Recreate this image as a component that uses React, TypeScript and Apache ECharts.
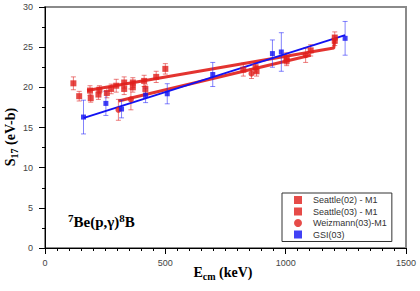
import React, { useEffect, useRef } from "react";
import * as echarts from "echarts";

// [E_cm (keV), S17 (eV-b), error]
const seattle02 = [
  [118, 20.5, 0.8], [142, 18.9, 0.6], [187, 19.6, 0.6], [190, 18.65, 0.5],
  [222, 19.1, 0.6], [257, 19.3, 0.6], [275, 19.8, 0.6], [329, 20.6, 0.7],
  [365, 20.6, 0.6], [412, 20.8, 0.7], [462, 21.3, 0.7], [500, 22.3, 0.65],
];
const seattle03 = [
  [226, 19.7, 0.5], [296, 20.2, 0.8], [329, 19.8, 0.7], [365, 20.0, 0.6],
  [417, 19.8, 0.5], [824, 22.2, 0.8], [875, 22.5, 0.6], [879, 22.0, 0.6],
  [1004, 23.6, 0.7], [1004, 23.3, 0.6], [1104, 24.6, 0.7], [1204, 26.2, 0.7],
  [1204, 25.8, 0.6],
];
const weizmann03 = [
  [305, 17.2, 1.3], [357, 18.5, 1.3], [858, 21.7, 0.6], [1083, 24.0, 0.9],
];
const gsi03 = [
  [160, 16.3, 2.1], [253, 18.0, 1.5], [318, 17.3, 1.1], [418, 19.0, 0.9],
  [508, 19.2, 1.25], [697, 21.6, 1.5], [945, 24.2, 1.7], [982, 24.4, 2.4],
  [1247, 26.1, 2.1],
];
// fit curves
const redFitA = [[175, 19.6], [1200, 24.9], [1204, 26.0]];
const redFitB = [[305, 18.3], [1104, 24.0]];
const blueFit = [[162, 16.2], [1247, 26.5]];

const legendNames = ["Seattle(02) - M1", "Seattle(03) - M1", "Weizmann(03)-M1", "GSI(03)"];
const xTicks = { min: 0, max: 1500, interval: 500 };
const yTicks = { min: 0, max: 30, interval: 5 };

const RED = "#e01e1a";
const BLUE = "#1212f2";
const RED_ERR = "rgba(224,40,40,0.6)";
const BLUE_ERR = "rgba(30,30,250,0.55)";
const SERIF = "'Liberation Serif', 'Times New Roman', serif";
const SANS = "'Liberation Sans', Arial, sans-serif";

function errSeries(name: string, data: number[][], color: string) {
  return {
    type: "custom",
    name,
    data,
    encode: { x: 0, y: 1 },
    z: 2,
    renderItem: (params: any, api: any) => {
      const x = api.value(0);
      const y = api.value(1);
      const e = api.value(2);
      const top = api.coord([x, y + e]);
      const bot = api.coord([x, y - e]);
      const w = 2.5;
      const style = { stroke: color, lineWidth: 1 };
      return {
        type: "group",
        children: [
          { type: "line", shape: { x1: top[0], y1: top[1], x2: bot[0], y2: bot[1] }, style },
          { type: "line", shape: { x1: top[0] - w, y1: top[1], x2: top[0] + w, y2: top[1] }, style },
          { type: "line", shape: { x1: bot[0] - w, y1: bot[1], x2: bot[0] + w, y2: bot[1] }, style },
        ],
      };
    },
  };
}

function pts(data: number[][]) {
  return data.map((d) => [d[0], d[1]]);
}

type Part = { t: string; size: number; dy: number };

function measure(text: string, size: number) {
  const ctx = document.createElement("canvas").getContext("2d");
  if (!ctx) return text.length * size * 0.5;
  ctx.font = `bold ${size}px ${SERIF}`;
  return ctx.measureText(text).width;
}

function scriptText(parts: Part[], x: number, y: number, rotation: number, centered: boolean) {
  const widths = parts.map((p) => measure(p.t, p.size));
  const total = widths.reduce((a, b) => a + b, 0);
  let cx = centered ? -total / 2 : 0;
  const children = parts.map((p, i) => {
    const el = {
      type: "text",
      x: cx,
      y: p.dy,
      style: {
        text: p.t, fontSize: p.size, fontWeight: "bold", fontFamily: SERIF,
        fill: "#000", align: "left", verticalAlign: "middle",
      },
    };
    cx += widths[i];
    return el;
  });
  return { type: "group", x, y, rotation, children };
}

export default function App() {
  const ref = useRef<HTMLDivElement>(null);
  useEffect(() => {
    document.body.style.margin = "0";
    if (!ref.current) return;
    const chart = echarts.init(ref.current, undefined, { renderer: "svg" });
    chart.setOption({
      animation: false,
      backgroundColor: "#fff",
      grid: {
        left: 45, right: 14, top: 7, bottom: 43,
        show: true, borderColor: "#8a8a8a", borderWidth: 2,
      },
      xAxis: {
        type: "value",
        min: xTicks.min, max: xTicks.max, interval: xTicks.interval,
        axisLine: { show: true, lineStyle: { color: "#000", width: 1 } },
        axisTick: { show: true, length: 6, lineStyle: { color: "#000" } },
        minorTick: { show: true, splitNumber: 10, length: 3, lineStyle: { color: "#000" } },
        splitLine: { show: false },
        axisLabel: { fontSize: 9, color: "#444", fontFamily: SANS, margin: 10, formatter: (v: number) => String(v) },
      },
      yAxis: {
        type: "value",
        min: yTicks.min, max: yTicks.max, interval: yTicks.interval,
        axisLine: { show: true, lineStyle: { color: "#000", width: 1 } },
        axisTick: { show: true, length: 6, lineStyle: { color: "#000" } },
        minorTick: { show: true, splitNumber: 2, length: 3, lineStyle: { color: "#000" } },
        splitLine: { show: false },
        axisLabel: { fontSize: 9, color: "#444", fontFamily: SANS, margin: 12 },
      },
      legend: {
        orient: "vertical",
        left: 282, top: 193,
        data: [
          { name: legendNames[0], icon: "rect" },
          { name: legendNames[1], icon: "rect" },
          { name: legendNames[2], icon: "circle" },
          { name: legendNames[3], icon: "rect" },
        ],
        borderColor: "#333", borderWidth: 1, borderRadius: 0,
        padding: [2, 5, 2, 12],
        itemWidth: 8, itemHeight: 8, itemGap: 1.5,
        textStyle: { fontSize: 9, color: "#333", fontFamily: SANS, lineHeight: 10, padding: [0, 0, 0, 6] },
      },
      series: [
        { type: "line", name: "fitA", data: redFitA, symbol: "none", z: 1,
          lineStyle: { color: RED, width: 3, opacity: 0.9 } },
        { type: "line", name: "fitB", data: redFitB, symbol: "none", z: 1,
          lineStyle: { color: RED, width: 3, opacity: 0.9 } },
        errSeries("e1", seattle02, RED_ERR),
        errSeries("e2", seattle03, RED_ERR),
        errSeries("e3", weizmann03, RED_ERR),
        errSeries("e4", gsi03, BLUE_ERR),
        { type: "line", name: "fitBlue", data: blueFit, symbol: "none", z: 3,
          lineStyle: { color: BLUE, width: 2 } },
        { type: "scatter", name: legendNames[0], data: pts(seattle02), symbol: "rect", symbolSize: 6,
          itemStyle: { color: RED }, z: 4 },
        { type: "scatter", name: legendNames[1], data: pts(seattle03), symbol: "rect", symbolSize: 6,
          itemStyle: { color: RED }, z: 4 },
        { type: "scatter", name: legendNames[2], data: pts(weizmann03), symbol: "circle", symbolSize: 6,
          itemStyle: { color: RED }, z: 4 },
        { type: "scatter", name: legendNames[3], data: pts(gsi03), symbol: "rect", symbolSize: 5,
          itemStyle: { color: BLUE }, z: 4 },
      ],
      graphic: [
        scriptText(
          [{ t: "S", size: 14, dy: 0 }, { t: "17", size: 10, dy: 4 }, { t: " (eV-b)", size: 14, dy: 0 }],
          10, 137, Math.PI / 2, true
        ),
        scriptText(
          [{ t: "E", size: 14, dy: 0 }, { t: "cm", size: 10, dy: 4 }, { t: " (keV)", size: 14, dy: 0 }],
          223, 272, 0, true
        ),
        scriptText(
          [{ t: "7", size: 11, dy: -4.5 }, { t: "Be(p,γ)", size: 15, dy: 0 }, { t: "8", size: 11, dy: -4.5 }, { t: "B", size: 15, dy: 0 }],
          68, 222, 0, false
        ),
      ],
    });
    return () => chart.dispose();
  }, []);
  return <div ref={ref} style={{ width: 420, height: 291 }} />;
}
